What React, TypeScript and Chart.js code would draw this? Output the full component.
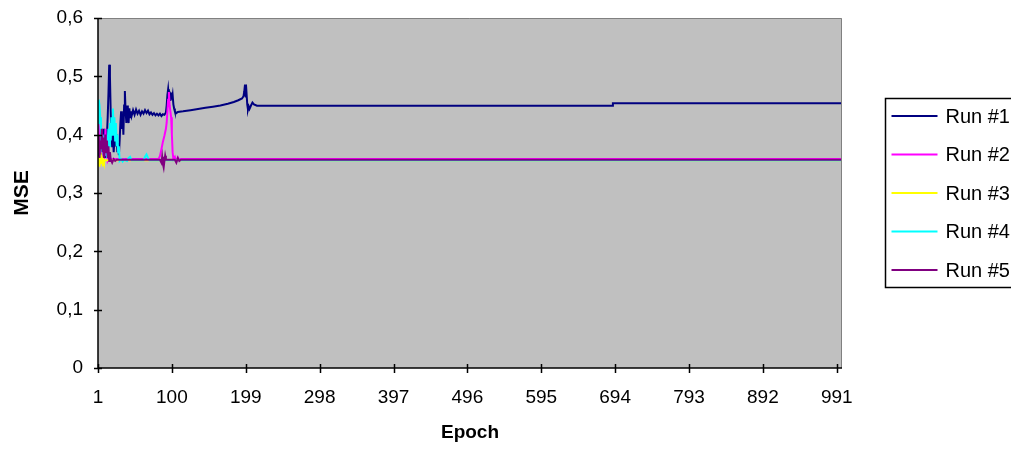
import { useEffect, useRef } from "react";
import { Chart, registerables } from "chart.js";

Chart.register(...registerables);

// Category labels on the epoch axis and value ticks on the MSE axis
const epochTicks = [1, 100, 199, 298, 397, 496, 595, 694, 793, 892, 991];
const mseTicks = [0, 0.1, 0.2, 0.3, 0.4, 0.5, 0.6];
const firstEpoch = 1;
const lastEpoch = 998;

const runNames = ["Run #1", "Run #2", "Run #3", "Run #4", "Run #5"];
const runColors = ["#000080", "#FF00FF", "#FFFF00", "#00FFFF", "#800080"];

// [epoch, mse] points for each training run
const run1: [number, number][] = [
  [1, 0.38], [2, 0.36], [3, 0.39], [4, 0.37], [5, 0.4], [6, 0.365], [7, 0.385], [8, 0.41],
  [9, 0.37], [10, 0.39], [11, 0.36], [12, 0.38], [13, 0.4], [14, 0.43], [15, 0.47], [16, 0.52],
  [17, 0.5], [18, 0.44], [19, 0.4], [20, 0.38], [21, 0.4], [22, 0.37], [23, 0.39], [24, 0.41],
  [25, 0.38], [26, 0.4], [27, 0.37], [28, 0.385], [29, 0.365], [30, 0.39], [31, 0.42], [32, 0.44],
  [33, 0.41], [34, 0.435], [35, 0.4], [36, 0.45], [37, 0.475], [38, 0.44], [39, 0.42], [40, 0.45],
  [41, 0.43], [42, 0.42], [43, 0.445], [44, 0.43], [45, 0.44], [46, 0.432], [48, 0.442], [50, 0.434],
  [52, 0.443], [54, 0.436], [56, 0.441], [58, 0.434], [60, 0.44], [62, 0.436], [64, 0.442], [66, 0.437],
  [68, 0.441], [70, 0.435], [72, 0.438], [74, 0.434], [76, 0.437], [78, 0.433], [80, 0.436], [82, 0.433],
  [84, 0.436], [86, 0.432], [88, 0.435], [90, 0.434], [92, 0.438], [93, 0.45], [94, 0.468], [95, 0.478],
  [96, 0.462], [97, 0.474], [98, 0.458], [99, 0.472], [100, 0.46], [101, 0.468], [102, 0.452], [103, 0.445],
  [104, 0.44], [106, 0.437], [108, 0.439], [115, 0.44], [125, 0.442], [135, 0.444], [145, 0.446],
  [155, 0.448], [165, 0.45], [175, 0.453], [183, 0.456], [189, 0.459], [194, 0.462], [196, 0.466],
  [197, 0.474], [198, 0.486], [199, 0.464], [200, 0.472], [201, 0.452], [202, 0.443], [203, 0.448],
  [204, 0.444], [206, 0.45], [208, 0.455], [210, 0.452], [214, 0.4496], [690, 0.4496], [691, 0.4537],
  [998, 0.4537],
];

const run2: [number, number][] = [
  [1, 0.43], [2, 0.39], [3, 0.415], [4, 0.37], [5, 0.42], [6, 0.38], [7, 0.4], [8, 0.36],
  [9, 0.39], [10, 0.37], [11, 0.41], [12, 0.365], [13, 0.38], [14, 0.356], [16, 0.362], [18, 0.357],
  [20, 0.3585], [82, 0.3585], [84, 0.363], [86, 0.375], [88, 0.388], [90, 0.398], [92, 0.41],
  [93, 0.42], [94, 0.44], [95, 0.46], [96, 0.473], [97, 0.45], [98, 0.44], [99, 0.43], [100, 0.4],
  [101, 0.37], [102, 0.358], [104, 0.362], [106, 0.354], [108, 0.361], [110, 0.356], [112, 0.3585],
  [998, 0.3585],
];

const run3: [number, number][] = [
  [1, 0.35], [2, 0.362], [3, 0.345], [4, 0.357], [5, 0.35], [6, 0.36], [7, 0.352], [8, 0.358],
  [9, 0.353], [10, 0.356], [998, 0.356],
];

const run4: [number, number][] = [
  [1, 0.42], [2, 0.46], [3, 0.45], [4, 0.43], [5, 0.4], [6, 0.37], [7, 0.4], [8, 0.38],
  [9, 0.36], [10, 0.39], [11, 0.37], [12, 0.38], [13, 0.36], [14, 0.39], [15, 0.41], [16, 0.38],
  [17, 0.42], [18, 0.39], [19, 0.43], [20, 0.4], [21, 0.445], [22, 0.41], [23, 0.43], [24, 0.39],
  [25, 0.42], [26, 0.38], [27, 0.4], [28, 0.37], [29, 0.38], [30, 0.355], [32, 0.358], [34, 0.354],
  [36, 0.357], [40, 0.355], [42, 0.36], [44, 0.362], [46, 0.356], [62, 0.356], [64, 0.362],
  [66, 0.366], [68, 0.36], [70, 0.356], [998, 0.356],
];

const run5: [number, number][] = [
  [1, 0.37], [2, 0.4], [3, 0.36], [4, 0.39], [5, 0.375], [6, 0.41], [7, 0.37], [8, 0.395],
  [9, 0.36], [10, 0.385], [11, 0.4], [12, 0.37], [13, 0.39], [14, 0.36], [15, 0.38], [16, 0.355],
  [17, 0.37], [18, 0.358], [20, 0.352], [22, 0.358], [24, 0.355], [26, 0.357], [84, 0.357],
  [86, 0.352], [87, 0.362], [88, 0.35], [89, 0.344], [90, 0.355], [91, 0.364], [92, 0.357],
  [104, 0.357], [106, 0.352], [108, 0.36], [110, 0.355], [112, 0.357], [998, 0.357],
];

const runs = [run1, run2, run3, run4, run5];

const FONT = "'Liberation Sans', Arial, sans-serif";

// Grey plot area, black axes with crossing tick marks, boxed legend on the right
const frame = {
  id: "frame",
  beforeDatasetsDraw(chart: any) {
    const { ctx, chartArea } = chart;
    const { left, top, right, bottom } = chartArea;
    ctx.save();
    ctx.fillStyle = "#C0C0C0";
    ctx.fillRect(left, top, right - left, bottom - top);
    ctx.restore();
  },
  afterDraw(chart: any) {
    const { ctx, chartArea, scales } = chart;
    const { left, top, right, bottom } = chartArea;
    ctx.save();
    // plot area border
    ctx.strokeStyle = "#808080";
    ctx.lineWidth = 1;
    ctx.beginPath();
    ctx.moveTo(left, top + 0.5);
    ctx.lineTo(right - 0.5, top + 0.5);
    ctx.lineTo(right - 0.5, bottom);
    ctx.stroke();
    // axes
    ctx.strokeStyle = "#000";
    ctx.lineWidth = 1.5;
    ctx.beginPath();
    ctx.moveTo(left, top);
    ctx.lineTo(left, bottom);
    ctx.lineTo(right, bottom);
    ctx.stroke();
    // tick marks crossing the axes
    ctx.beginPath();
    for (const v of mseTicks) {
      const y = Math.round(scales.y.getPixelForValue(v)) + 0.5;
      ctx.moveTo(left - 4, y);
      ctx.lineTo(left + 4, y);
    }
    for (const v of epochTicks) {
      const x = Math.round(scales.x.getPixelForValue(v)) + 0.5;
      ctx.moveTo(x, bottom - 4);
      ctx.lineTo(x, bottom + 5);
    }
    ctx.stroke();

    // legend
    const boxLeft = right + 43.5;
    const boxTop = 98.5;
    const rowGap = 38.5;
    ctx.fillStyle = "#fff";
    ctx.fillRect(boxLeft, boxTop, 200, 189);
    ctx.strokeStyle = "#000";
    ctx.lineWidth = 1.5;
    ctx.strokeRect(boxLeft, boxTop, 200, 189);
    ctx.font = `20px ${FONT}`;
    ctx.textBaseline = "middle";
    ctx.textAlign = "left";
    runNames.forEach((name, i) => {
      const y = boxTop + 17.5 + i * rowGap;
      ctx.strokeStyle = runColors[i];
      ctx.lineWidth = 2;
      ctx.beginPath();
      ctx.moveTo(boxLeft + 6, y);
      ctx.lineTo(boxLeft + 52, y);
      ctx.stroke();
      ctx.fillStyle = "#000";
      ctx.fillText(name, boxLeft + 60, y + 1);
    });
    ctx.restore();
  },
};

export default function App() {
  const canvasRef = useRef<HTMLCanvasElement | null>(null);

  useEffect(() => {
    const canvas = canvasRef.current;
    if (!canvas) return;
    const chart = new Chart(canvas, {
      type: "line",
      data: {
        datasets: runs.map((pts, i) => ({
          label: runNames[i],
          data: pts.map(([x, y]) => ({ x, y })),
          borderColor: runColors[i],
          backgroundColor: runColors[i],
          borderWidth: 2,
          pointRadius: 0,
          tension: 0,
          fill: false,
          order: runs.length - i,
        })),
      },
      options: {
        responsive: false,
        animation: false,
        layout: { padding: { left: 0, top: 18, right: 169, bottom: 0 } },
        plugins: {
          legend: { display: false },
          tooltip: { enabled: false },
        },
        scales: {
          x: {
            type: "linear",
            min: firstEpoch,
            max: lastEpoch,
            grid: { display: false },
            border: { display: false },
            afterBuildTicks: (scale: any) => {
              scale.ticks = epochTicks.map((v) => ({ value: v }));
            },
            afterFit: (scale: any) => {
              scale.height = 91;
              scale.paddingLeft = 0;
              scale.paddingRight = 0;
            },
            ticks: {
              autoSkip: false,
              maxRotation: 0,
              padding: 10,
              color: "#000",
              font: { family: FONT, size: 19 },
              callback: (v: any) => String(v),
            },
            title: {
              display: true,
              text: "Epoch",
              color: "#000",
              font: { family: FONT, size: 19, weight: "bold" },
              padding: { top: 0, bottom: 15 },
            },
          },
          y: {
            min: 0,
            max: 0.6,
            grid: { display: false },
            border: { display: false },
            afterBuildTicks: (scale: any) => {
              scale.ticks = mseTicks.map((v) => ({ value: v }));
            },
            afterFit: (scale: any) => {
              scale.width = 98;
              scale.paddingTop = 0;
              scale.paddingBottom = 0;
            },
            ticks: {
              padding: 7,
              color: "#000",
              font: { family: FONT, size: 19 },
              callback: (v: any) => (v === 0 ? "0" : Number(v).toFixed(1).replace(".", ",")),
            },
            title: {
              display: true,
              text: "MSE",
              color: "#000",
              font: { family: FONT, size: 21, weight: "bold" },
              padding: { top: 10, bottom: 0 },
            },
          },
        },
      },
      plugins: [frame],
    });
    return () => chart.destroy();
  }, []);

  return (
    <div style={{ position: "fixed", left: 0, top: 0, width: 1011, height: 459, background: "#fff" }}>
      <canvas ref={canvasRef} width={1011} height={459} style={{ display: "block" }} />
    </div>
  );
}
